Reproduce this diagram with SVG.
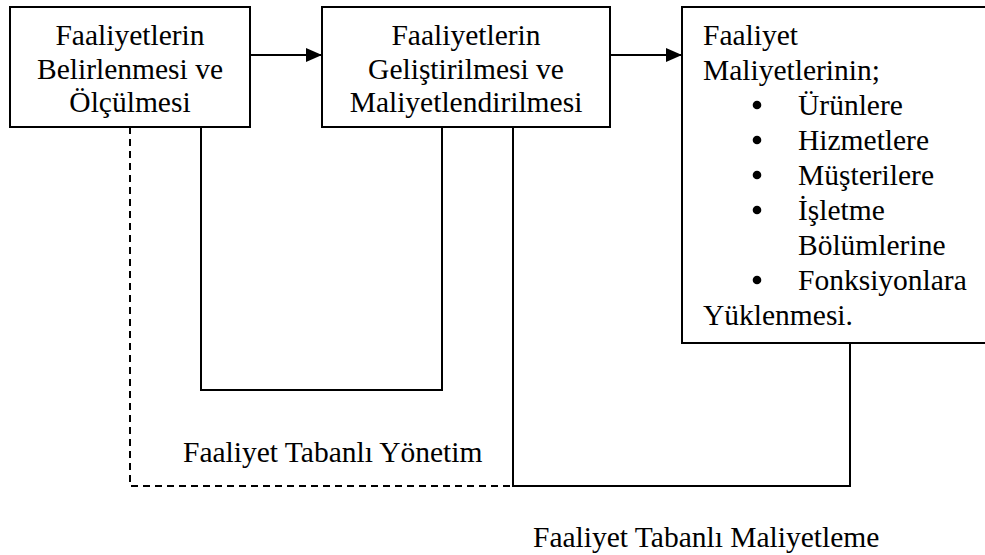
<svg xmlns="http://www.w3.org/2000/svg" width="985" height="555" viewBox="0 0 985 555">
  <style>
    .box { fill: #ffffff; stroke: #000000; stroke-width: 2; }
    .txt { font-family: "Liberation Serif", "Times New Roman", serif; font-size: 29.5px; fill: #000000; }
    .mid { text-anchor: middle; }
    .dot { fill: #000000; }
    .line { fill: none; stroke: #000000; stroke-width: 2; }
    .dash { fill: none; stroke: #000000; stroke-width: 2; stroke-dasharray: 7 5; }
  </style>
  <defs>
    <marker id="arrow" viewBox="0 0 16 14" refX="16" refY="7" markerWidth="16" markerHeight="14" markerUnits="userSpaceOnUse" orient="auto">
      <path d="M0,0 L16,7 L0,14 Z" fill="#000000"/>
    </marker>
  </defs>

  <rect width="985" height="555" fill="#ffffff"/>

  <!-- connectors -->
  <g id="connectors">
    <line class="line" x1="250" y1="55" x2="322" y2="55" marker-end="url(#arrow)"/>
    <line class="line" x1="610" y1="55" x2="682" y2="55" marker-end="url(#arrow)"/>
    <!-- management loop (dashed) -->
    <path class="dash" d="M130,127 L130,486 L513,486"/>
    <!-- link between first and second step -->
    <path class="line" d="M201,127 L201,390 L442,390 L442,127"/>
    <!-- costing loop -->
    <path class="line" d="M513,127 L513,486 L850,486 L850,343"/>
  </g>

  <g id="node-belirleme">
    <rect class="box" x="10" y="7" width="240" height="120"/>
    <text class="txt mid" x="130" y="45">Faaliyetlerin</text>
    <text class="txt mid" x="130" y="79">Belirlenmesi ve</text>
    <text class="txt mid" x="130" y="112">Ölçülmesi</text>
  </g>

  <g id="node-gelistirme">
    <rect class="box" x="322" y="7" width="288" height="120"/>
    <text class="txt mid" x="466" y="45">Faaliyetlerin</text>
    <text class="txt mid" x="466" y="79">Geliştirilmesi ve</text>
    <text class="txt mid" x="466" y="112">Maliyetlendirilmesi</text>
  </g>

  <g id="node-yukleme">
    <rect class="box" x="682" y="7" width="320" height="336"/>
    <text class="txt" x="703" y="45">Faaliyet</text>
    <text class="txt" x="703" y="80">Maliyetlerinin;</text>
    <!-- list markers -->
    <circle class="dot" cx="757" cy="105" r="4.3"/>
    <circle class="dot" cx="757" cy="140" r="4.3"/>
    <circle class="dot" cx="757" cy="175" r="4.3"/>
    <circle class="dot" cx="757" cy="210" r="4.3"/>
    <circle class="dot" cx="757" cy="280" r="4.3"/>
    <text class="txt" x="798" y="115">Ürünlere</text>
    <text class="txt" x="798" y="150">Hizmetlere</text>
    <text class="txt" x="798" y="185">Müşterilere</text>
    <text class="txt" x="798" y="220">İşletme</text>
    <text class="txt" x="798" y="255">Bölümlerine</text>
    <text class="txt" x="798" y="290">Fonksiyonlara</text>
    <text class="txt" x="703" y="325">Yüklenmesi.</text>
  </g>

  <g id="label-yonetim">
    <text class="txt" x="183" y="462">Faaliyet Tabanlı Yönetim</text>
  </g>

  <g id="label-maliyetleme">
    <text class="txt" x="533" y="547">Faaliyet Tabanlı Maliyetleme</text>
  </g>
</svg>
